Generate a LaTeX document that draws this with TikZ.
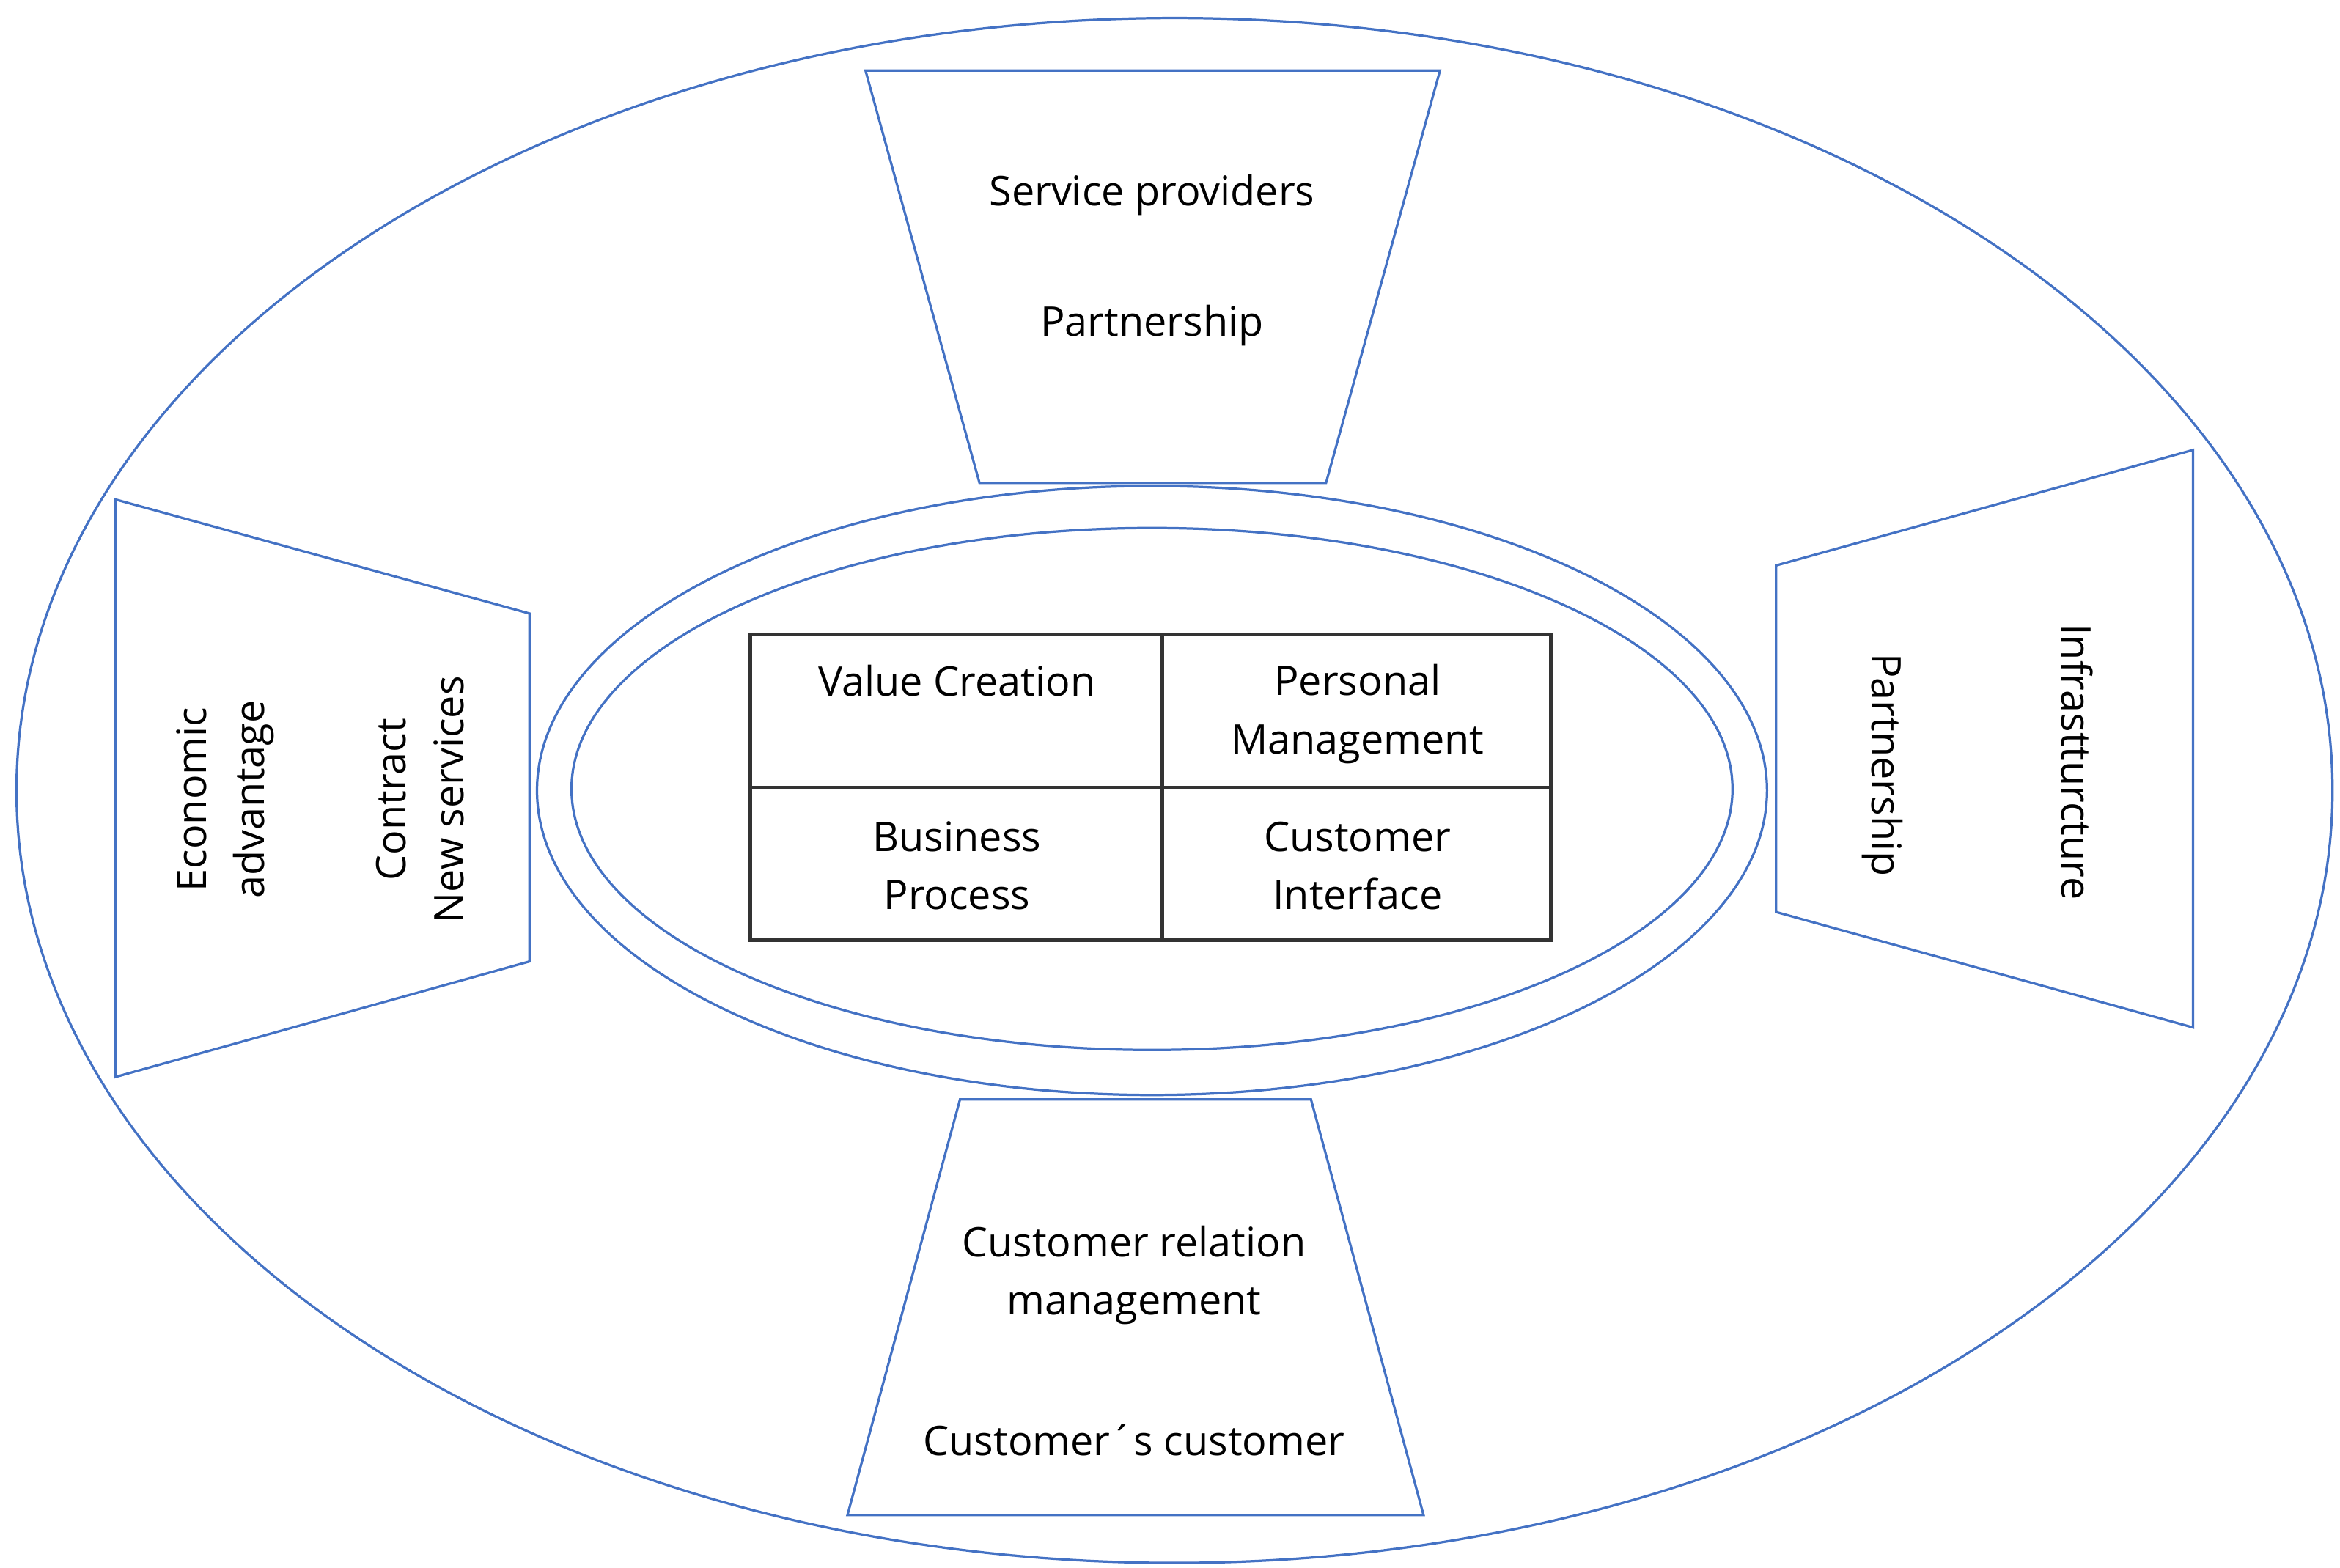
\documentclass[tikz,border=0pt]{standalone}
\usepackage{fontspec}
\setmainfont{Open Sans}
\usetikzlibrary{positioning}
\definecolor{frameblue}{RGB}{68,114,196}
\begin{document}
\begin{tikzpicture}[x=0.02cm, y=-0.02cm, thick,
  outline/.style={draw=frameblue, line width=0.9pt},
  grid/.style={draw=black!80, line width=1.4pt},
  label/.style={font=\fontsize{15.5}{22}\selectfont, align=center, inner sep=0pt}]
% Bounding box
\useasboundingbox (0,0) rectangle (1560,1045);

% Ellipses
\draw[outline] (783,527) ellipse [x radius=772, y radius=515];
\draw[outline] (768,527) ellipse [x radius=410, y radius=203];
\draw[outline] (768,526) ellipse [x radius=387, y radius=174];

% Trapezoids
\draw[outline] (577,47) -- (960,47) -- (884,322) -- (653,322) -- cycle;
\draw[outline] (77,333) -- (353,409) -- (353,641) -- (77,718) -- cycle;
\draw[outline] (1184,377) -- (1462,300) -- (1462,685) -- (1184,608) -- cycle;
\draw[outline] (640,733) -- (874,733) -- (949,1010) -- (565,1010) -- cycle;

% Center table
\draw[grid] (500,423) rectangle (1034,627);
\draw[grid] (775,423) -- (775,627);
\draw[grid] (500,525) -- (1034,525);

% Labels
\node[label] (valcr) at (638,454) {Value Creation};
\node[label] (persm) at (905,476) {Personal\\Management};
\node[label] (busp) at (638,577) {Business\\Process};
\node[label] (custi) at (905,577) {Customer\\Interface};
\node[label] (servp) at (768,130) {Service providers};
\node[label] (partt) at (768,217) {Partnership};
\node[label, rotate=90] (econ) at (150,533) {Economic\\advantage};
\node[label, rotate=90] (contr) at (280,533) {Contract\\New services};
\node[label, rotate=-90] (partr) at (1255,510) {Partnership};
\node[label, rotate=-90] (infra) at (1385,508) {Infrastturcture};
\node[label] (crm) at (756,850) {Customer relation\\management};
\node[label] (custc) at (756,960) {Customer´s customer};
\end{tikzpicture}
\end{document}
